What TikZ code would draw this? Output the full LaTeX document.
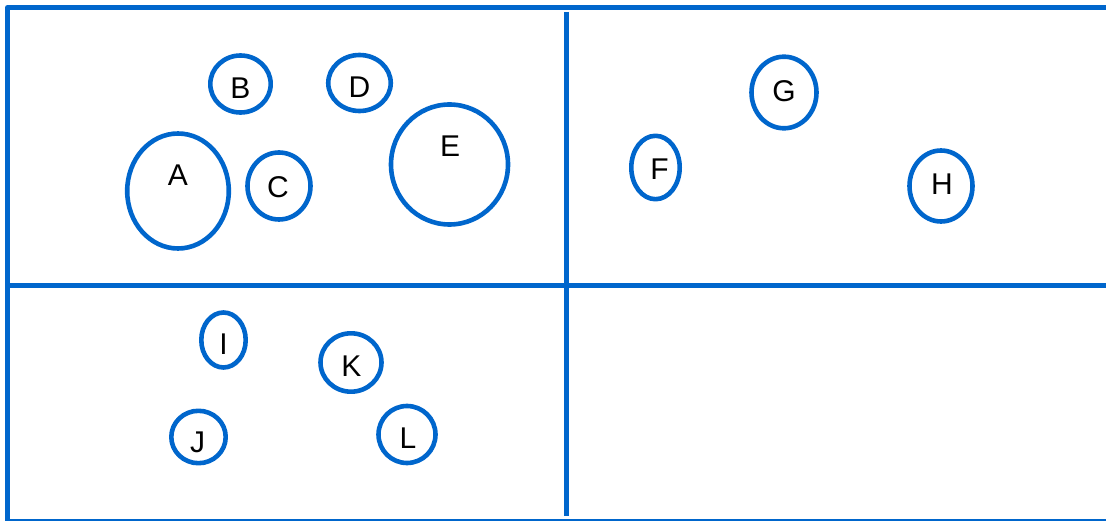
\documentclass[tikz,border=0pt]{standalone}
\usepackage{fontspec}
\setmainfont{Liberation Sans}
\usetikzlibrary{shapes.geometric}
\definecolor{cellblue}{RGB}{0,102,204}
\tikzset{frame/.style={draw=cellblue,line width=5pt},
 blob/.style={ellipse,draw=cellblue,line width=4.6pt,inner sep=0pt},
 tag/.style={inner sep=0pt,font=\fontsize{30}{30}\selectfont},
 every picture/.style={line join=round}}

\begin{document}
\begin{tikzpicture}[x=1pt,y=-1pt]
\useasboundingbox (0,0) rectangle (1106,521);
\clip (0,0) rectangle (1106,521);
% the four cells
\coordinate (nw) at (7.5,7.5);
\coordinate (se) at (1109,521.5);
\coordinate (mt) at (566,12);
\coordinate (mb) at (566,516);
\coordinate (ml) at (7.5,285.5);
\coordinate (mr) at (1109,285.5);
\draw[frame] (nw) rectangle (se);
\draw[frame] (ml) -- (mr);
\draw[frame] (mt) -- (mb);
% upper left
\node[blob,minimum width=101.6,minimum height=115] (A) at (178,191) {};
\node[tag] (tA) at (178,175) {A};
\node[blob,minimum width=60.4,minimum height=57] (B) at (240.5,84) {};
\node[tag] (tB) at (240.5,88) {B};
\node[blob,minimum width=63,minimum height=67] (C) at (279,186) {};
\node[tag] (tC) at (278,187) {C};
\node[blob,minimum width=62.5,minimum height=56] (D) at (359.5,83) {};
\node[tag] (tD) at (359.5,87.5) {D};
\node[blob,minimum width=117,minimum height=120] (E) at (449.5,164.5) {};
\node[tag] (tE) at (450,146) {E};
% upper right
\node[blob,minimum width=48.4,minimum height=63.4] (F) at (655.5,167.5) {};
\node[tag] (tF) at (659.5,169.5) {F};
\node[blob,minimum width=65,minimum height=71.6] (G) at (784,92.5) {};
\node[tag] (tG) at (784,91.5) {G};
\node[blob,minimum width=63,minimum height=71] (H) at (941,186) {};
\node[tag] (tH) at (942,184) {H};
% lower left
\node[blob,minimum width=44.4,minimum height=55] (I) at (223.5,340) {};
\node[tag] (tI) at (223.5,344) {I};
\node[blob,minimum width=54.4,minimum height=52.4] (J) at (198.5,437) {};
\node[tag] (tJ) at (197.5,442) {J};
\node[blob,minimum width=61,minimum height=58.4] (K) at (351,362.5) {};
\node[tag] (tK) at (351.5,366) {K};
\node[blob,minimum width=57,minimum height=57] (L) at (407,434.5) {};
\node[tag] (tL) at (408,438) {L};
\end{tikzpicture}
\end{document}
